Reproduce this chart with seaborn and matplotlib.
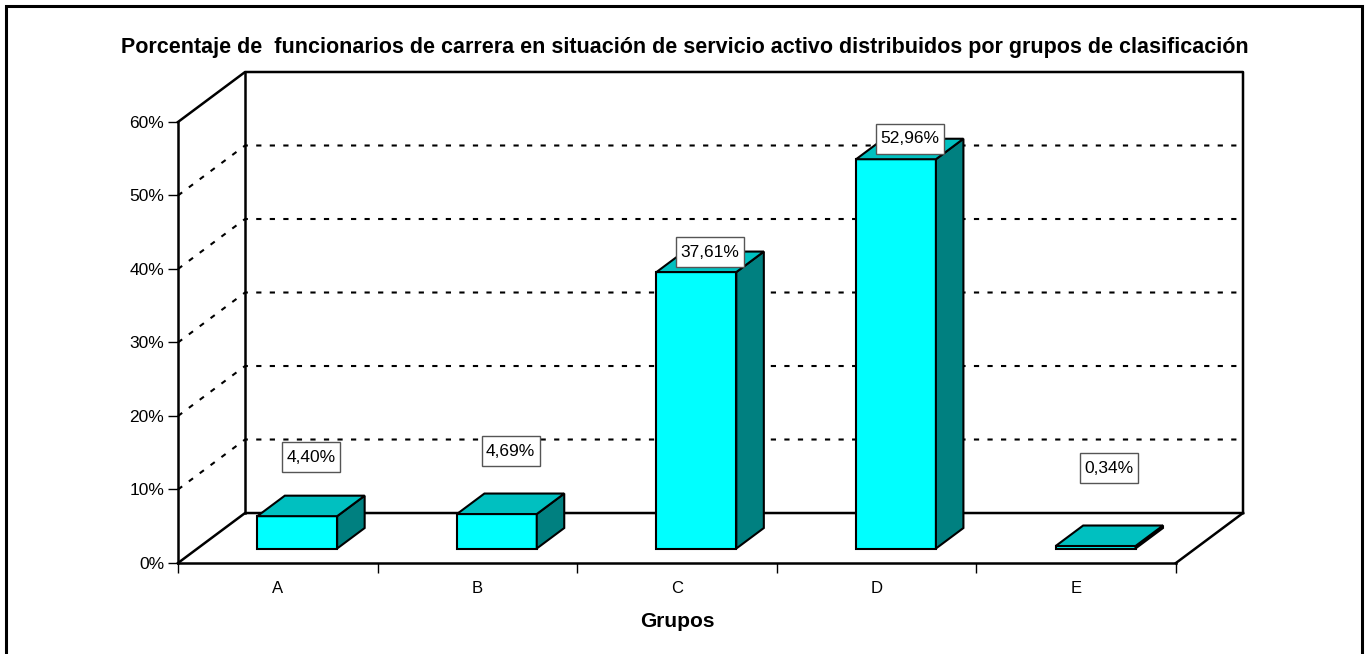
import matplotlib
matplotlib.use("Agg")
import matplotlib.pyplot as plt
import seaborn as sns
from matplotlib.patches import Polygon, Rectangle
from matplotlib.path import Path

# Datos del gráfico
grupos = ["A", "B", "C", "D", "E"]
porcentajes = [4.40, 4.69, 37.61, 52.96, 0.34]
ticks_y = [0, 10, 20, 30, 40, 50, 60]
# altura (en %) a la que están colocadas las etiquetas de valor
altura_etiqueta = [14.4, 15.2, 42.3, 57.7, 12.9]

titulo = ("Porcentaje de  funcionarios de carrera en situación de servicio "
          "activo distribuidos por grupos de clasificación")

sns.set_theme(style="white")
plt.rcParams["font.family"] = ["Liberation Sans", "DejaVu Sans"]
for k in ["text.color", "axes.labelcolor", "xtick.color", "ytick.color"]:
    plt.rcParams[k] = "black"

CIAN = "#00FFFF"
TECHO = "#00C0C0"
LADO = "#008080"

# efecto 3D: desplazamiento de la profundidad completa en unidades de datos
PX, PY = 0.336, 6.8
Z0, Z1 = 0.29, 0.70   # profundidad de la cara frontal y trasera de las barras


def caja(x0, y0, width, height, mutation_size):
    # recuadro de etiqueta algo más alto que ancho de margen
    px, py = 0.25 * mutation_size, 0.42 * mutation_size
    x0, y0 = x0 - px, y0 - py
    x1, y1 = x0 + width + 2 * px, y0 + height + 2 * py
    return Path([(x0, y0), (x1, y0), (x1, y1), (x0, y1), (x0, y0)], closed=True)


W, H = 1367, 654
fig = plt.figure(figsize=(W / 100, H / 100), dpi=100)
ax = fig.add_axes([178 / W, 91 / H, 1065 / W, 491 / H])

# paredes: líneas de rejilla punteadas (pared izquierda y fondo)
xb = -0.5 + PX
xr = 4.5 + PX
punteado = (0, (2.5, 4))
for t in ticks_y[1:-1]:
    ax.plot([-0.5, xb, xr], [t, t + PY, t + PY], color="black", lw=1.5,
            ls=punteado, zorder=1, clip_on=False)

# aristas sólidas de la caja
aristas = dict(color="black", lw=1.8, zorder=2, clip_on=False, solid_capstyle="projecting")
ax.plot([-0.5, xb, xr, xr], [60, 60 + PY, 60 + PY, PY], **aristas)
ax.plot([xb, xb], [PY, 60 + PY], **aristas)
ax.plot([-0.5, xb, xr], [0, PY, PY], **aristas)
ax.plot([4.5, xr], [0, PY], **aristas)

# barras (cara frontal) con seaborn
sns.barplot(x=grupos, y=porcentajes, color=CIAN, saturation=1, width=0.4,
            edgecolor="black", linewidth=1.5, ax=ax, zorder=3)

for p in list(ax.patches):
    x0, w, h = p.get_x(), p.get_width(), p.get_height()
    p.set_x(x0 + Z0 * PX)
    p.set_y(Z0 * PY)
    p.set_clip_on(False)
    xa, xc = x0 + Z0 * PX, x0 + w + Z0 * PX
    ya = Z0 * PY
    dx, dy = (Z1 - Z0) * PX, (Z1 - Z0) * PY
    techo = Polygon([(xa, h + ya), (xc, h + ya), (xc + dx, h + ya + dy), (xa + dx, h + ya + dy)],
                    closed=True, fc=TECHO, ec="black", lw=1.5, zorder=3, clip_on=False)
    lado = Polygon([(xc, ya), (xc + dx, ya + dy), (xc + dx, h + ya + dy), (xc, h + ya)],
                   closed=True, fc=LADO, ec="black", lw=1.5, zorder=3, clip_on=False)
    ax.add_patch(lado)
    ax.add_patch(techo)

# etiquetas de valor
xm = 0.5 * (Z0 + Z1) * PX
for i, (v, yl) in enumerate(zip(porcentajes, altura_etiqueta)):
    txt = f"{v:.2f}".replace(".", ",") + "%"
    ax.text(i + xm, yl, txt, ha="center", va="center", fontsize=12.5, zorder=6,
            bbox=dict(boxstyle=caja, fc="white", ec="#555555", lw=1))

# ejes
ax.set_xlim(-0.5, 4.5 + PX)
ax.set_ylim(0, 60 + PY)
ax.set_yticks(ticks_y)
ax.set_yticklabels([f"{t}%" for t in ticks_y])
ax.set_xticks(range(len(grupos)))
ax.set_xticklabels(grupos)
ax.set_xticks([i - 0.5 for i in range(len(grupos) + 1)], minor=True)
ax.tick_params(axis="x", which="major", bottom=True, length=0, pad=13, labelsize=12)
ax.tick_params(axis="x", which="minor", bottom=True, length=7, width=1, color="black")
ax.tick_params(axis="y", left=True, length=7, width=1, color="black", pad=3, labelsize=12.5)

for s in ["top", "right"]:
    ax.spines[s].set_visible(False)
ax.spines["left"].set_bounds(0, 60)
ax.spines["bottom"].set_bounds(-0.5, 4.5)
for s in ["left", "bottom"]:
    ax.spines[s].set_color("black")
    ax.spines[s].set_linewidth(1.8)
ax.set_ylabel("")
ax.set_xlabel("Grupos", fontweight="bold", fontsize=15)
ax.xaxis.set_label_coords(0.4685, -0.1)
ax.patch.set_alpha(0)

fig.text(685 / W, 1 - 48 / H, titulo, ha="center", va="center",
         fontweight="bold", fontsize=15.5)

# marco exterior
fig.patches.append(Rectangle((6 / W, -0.05), 1356 / W, 1 - 6 / H + 0.05,
                             transform=fig.transFigure, fill=False,
                             ec="black", lw=2.2))

fig.savefig("out.png", dpi=100)
